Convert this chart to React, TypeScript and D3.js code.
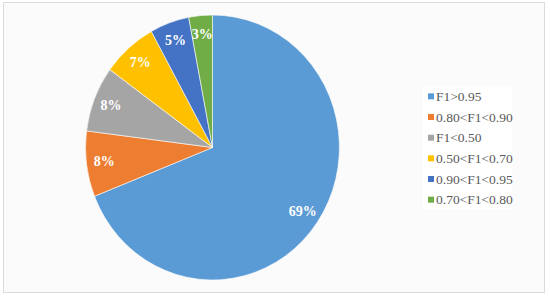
import React, { useEffect, useRef } from "react";
import * as d3 from "d3";

const categories = ["F1>0.95", "0.80<F1<0.90", "F1<0.50", "0.50<F1<0.70", "0.90<F1<0.95", "0.70<F1<0.80"];
const shares = [69, 8, 8, 7, 5, 3];
const palette = ["#5B9BD5", "#ED7D31", "#A5A5A5", "#FFC000", "#4472C4", "#70AD47"];

const W = 550;
const H = 296;
const SERIF = "'Liberation Serif', 'Times New Roman', Times, serif";

export default function App() {
  const svgRef = useRef<SVGSVGElement | null>(null);

  useEffect(() => {
    if (!svgRef.current) return;
    const svg = d3.select(svgRef.current);
    svg.selectAll("*").remove();

    // outer frame
    svg.append("rect")
      .attr("x", 3.5).attr("y", 2.5)
      .attr("width", 541).attr("height", 290)
      .attr("fill", "#fbfbfb")
      .attr("stroke", "#dcdcdc")
      .attr("stroke-width", 1);

    const cx = 212.5;
    const cy = 147.5;
    const r = 132.5;
    const sx = 0.958; // picture is slightly squeezed horizontally

    const pie = d3.pie<number>().sort(null).value(d => d);
    const arcs = pie(shares);
    const arc = d3.arc<d3.PieArcDatum<number>>().innerRadius(0).outerRadius(r);
    const labelArc = d3.arc<d3.PieArcDatum<number>>().innerRadius(r * 0.86).outerRadius(r * 0.86);

    const g = svg.append("g")
      .attr("transform", `translate(${cx},${cy}) scale(${sx},1)`);

    g.selectAll("path.slice")
      .data(arcs)
      .enter()
      .append("path")
      .attr("class", "slice")
      .attr("d", arc)
      .attr("fill", (_, i) => palette[i])
      .attr("stroke", "#ffffff")
      .attr("stroke-width", 0.6);

    // percent labels (not scaled, so text keeps its shape)
    svg.selectAll("text.pct")
      .data(arcs)
      .enter()
      .append("text")
      .attr("class", "pct")
      .attr("x", d => cx + labelArc.centroid(d)[0] * sx)
      .attr("y", d => cy + labelArc.centroid(d)[1])
      .attr("text-anchor", "middle")
      .attr("dominant-baseline", "central")
      .attr("fill", "#ffffff")
      .style("font-family", SERIF)
      .style("font-weight", "bold")
      .style("font-size", "14px")
      .text(d => `${d.data}%`);

    // legend
    const legendY = d3.scaleBand<string>()
      .domain(categories)
      .range([86, 210])
      .paddingInner(0);

    svg.append("rect")
      .attr("x", 423).attr("y", 86)
      .attr("width", 89).attr("height", 123)
      .attr("fill", "#ffffff");

    const items = svg.selectAll("g.legend")
      .data(categories)
      .enter()
      .append("g")
      .attr("class", "legend")
      .attr("transform", d => `translate(428,${legendY(d)! + legendY.bandwidth() / 2})`);

    items.append("rect")
      .attr("x", 0).attr("y", -3)
      .attr("width", 6).attr("height", 6)
      .attr("fill", (_, i) => palette[i]);

    items.append("text")
      .attr("x", 8)
      .attr("y", 0)
      .attr("dominant-baseline", "central")
      .attr("fill", "#595959")
      .style("font-family", SERIF)
      .style("font-size", "13.5px")
      .text(d => d);
  }, []);

  return (
    <svg
      ref={svgRef}
      width={W}
      height={H}
      style={{ position: "absolute", left: 0, top: 0, background: "#ffffff" }}
    />
  );
}
